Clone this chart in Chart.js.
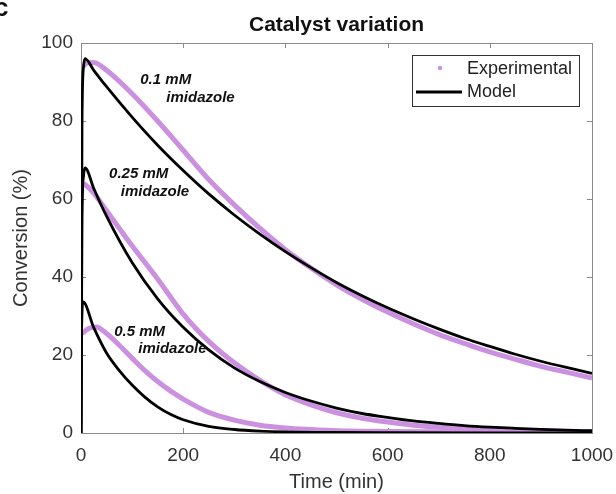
<!DOCTYPE html>
<html lang="en">
<head>
<meta charset="UTF-8">
<title>Catalyst variation</title>
<script src="https://cdn.jsdelivr.net/npm/chart.js@4.4.0/dist/chart.umd.min.js"></script>
<style>
    body { margin: 0; background: #fff; }
    canvas { display: block; }
</style>
</head>
<body>
<canvas id="catalyst" width="616" height="494"></canvas>
<script>
    // values (time in min, conversion in %)
    const timeModel01 = [0, 2, 5, 8, 25, 50, 100, 150, 200, 250, 300, 350, 400, 450, 500, 550, 600, 650, 700, 750, 800, 850, 900, 950, 1000];
    const model01 = [0, 80, 94, 96, 93.0, 88.8, 81.0, 73.8, 67.3, 61.3, 55.9, 51.0, 46.5, 42.4, 38.6, 35.2, 32.1, 29.3, 26.7, 24.3, 22.2, 20.2, 18.4, 16.8, 15.3];

    const timeModel025 = [0, 2, 5, 8, 25, 50, 100, 150, 200, 250, 300, 350, 400, 450, 500, 550, 600, 650, 700, 750, 800, 850, 900, 950, 1000];
    const model025 = [0, 55, 66, 68, 62.7, 55.6, 43.7, 34.4, 27.1, 21.3, 16.7, 13.2, 10.4, 8.2, 6.4, 5.0, 4.0, 3.1, 2.45, 1.9, 1.5, 1.2, 0.94, 0.74, 0.58];

    const timeModel05 = [0, 1, 4, 25, 50, 75, 100, 125, 150, 175, 200, 250, 300, 350, 400, 500, 600, 800, 1000];
    const model05 = [0, 25, 33.6, 27, 20.5, 16, 12.3, 9.2, 6.7, 4.8, 3.4, 1.7, 0.9, 0.5, 0.3, 0.15, 0.1, 0.05, 0.03];

    const timeExp01 = [5, 10, 25, 50, 100, 150, 200, 250, 300, 350, 400, 450, 500, 550, 600, 650, 700, 750, 800, 850, 900, 950, 1000];
    const exp01 = [94, 94.8, 95, 93, 87, 80, 72.5, 65, 58.5, 52.5, 47, 42.3, 38, 34.3, 31, 28, 25.3, 23, 20.8, 18.9, 17.1, 15.6, 14.1];

    const timeExp025 = [5, 10, 25, 50, 100, 150, 200, 250, 300, 350, 400, 450, 500, 550, 600, 650, 700, 750, 800, 850, 900, 950, 1000];
    const exp025 = [64, 63.5, 61.5, 57, 48, 39.5, 30.5, 23.5, 18, 13.5, 9.8, 7.2, 5.2, 3.8, 2.8, 2.0, 1.5, 1.1, 0.8, 0.6, 0.5, 0.4, 0.3];

    const timeExp05 = [2, 15, 30, 50, 75, 100, 125, 150, 175, 200, 250, 300, 350, 400, 450, 500, 600, 700, 800, 900, 1000];
    const exp05 = [25.5, 26.8, 27.2, 25.5, 22.5, 19.2, 16, 13.2, 10.8, 8.7, 5.3, 3.3, 2.0, 1.3, 0.9, 0.6, 0.4, 0.3, 0.2, 0.15, 0.1];

    const xTicks = [0, 200, 400, 600, 800, 1000];
    const yTicks = [0, 20, 40, 60, 80, 100];

    // curve labels, anchored in data space
    const notes = [
        { text: '0.1 mM', t: 116, v: 90.5 },
        { text: 'imidazole', t: 167, v: 85.9 },
        { text: '0.25 mM', t: 55, v: 66.4 },
        { text: 'imidazole', t: 78, v: 61.8 },
        { text: '0.5 mM', t: 65, v: 25.9 },
        { text: 'imidazole', t: 112, v: 21.5 }
    ];

    const purple = 'rgb(203,145,224)';
    const fontFamily = '"Liberation Sans", Arial, sans-serif';

    function pairs(ts, vs) {
        return ts.map(function(t, i) { return { x: t, y: vs[i] }; });
    }

    function expSet(label, ts, vs) {
        return {
            label: label, data: pairs(ts, vs), borderColor: purple, borderWidth: 5,
            pointRadius: 0, cubicInterpolationMode: 'monotone', order: 2
        };
    }
    function modelSet(label, ts, vs) {
        return {
            label: label, data: pairs(ts, vs), borderColor: '#000', borderWidth: 2.8,
            pointRadius: 0, cubicInterpolationMode: 'monotone', order: 1
        };
    }

    // frame with inward ticks on all four sides (MATLAB style box)
    const framePlugin = {
        id: 'frame',
        beforeDatasetsDraw(chart) {
            const ctx = chart.ctx, a = chart.chartArea;
            const xs = chart.scales.x, ys = chart.scales.y;
            ctx.save();
            ctx.strokeStyle = '#8a8a8a';
            ctx.lineWidth = 1;
            ctx.strokeRect(a.left + 0.5, a.top + 0.5, a.right - a.left, a.bottom - a.top);
            ctx.beginPath();
            xTicks.forEach(function(t) {
                const px = Math.round(xs.getPixelForValue(t)) + 0.5;
                ctx.moveTo(px, a.bottom); ctx.lineTo(px, a.bottom - 5);
                ctx.moveTo(px, a.top); ctx.lineTo(px, a.top + 5);
            });
            yTicks.forEach(function(v) {
                const py = Math.round(ys.getPixelForValue(v)) + 0.5;
                ctx.moveTo(a.left, py); ctx.lineTo(a.left + 5, py);
                ctx.moveTo(a.right, py); ctx.lineTo(a.right - 5, py);
            });
            ctx.stroke();
            ctx.restore();
        },
        afterDatasetsDraw(chart) {
            const ctx = chart.ctx, a = chart.chartArea;
            const xs = chart.scales.x, ys = chart.scales.y;
            ctx.save();

            // curve labels
            ctx.fillStyle = '#111';
            ctx.font = 'italic bold 15px ' + fontFamily;
            ctx.textBaseline = 'middle';
            ctx.textAlign = 'left';
            notes.forEach(function(n) {
                ctx.fillText(n.text, xs.getPixelForValue(n.t), ys.getPixelForValue(n.v));
            });

            // legend box
            const bx = a.right - 180, by = a.top + 12, bw = 167, bh = 51;
            ctx.fillStyle = '#fff';
            ctx.fillRect(bx, by, bw, bh);
            ctx.strokeStyle = '#333';
            ctx.lineWidth = 1;
            ctx.strokeRect(bx + 0.5, by + 0.5, bw, bh);
            ctx.fillStyle = purple;
            ctx.beginPath();
            ctx.arc(bx + 28, by + 13, 2.2, 0, Math.PI * 2);
            ctx.fill();
            ctx.strokeStyle = '#000';
            ctx.lineWidth = 3;
            ctx.beginPath();
            ctx.moveTo(bx + 4, by + 37); ctx.lineTo(bx + 50, by + 37);
            ctx.stroke();
            ctx.fillStyle = '#222';
            ctx.font = '18px ' + fontFamily;
            ctx.fillText('Experimental', bx + 55, by + 14);
            ctx.fillText('Model', bx + 55, by + 37);

            // title
            ctx.fillStyle = '#111';
            ctx.font = 'bold 21px ' + fontFamily;
            ctx.textAlign = 'center';
            ctx.fillText('Catalyst variation', (a.left + a.right) / 2, 25);

            // panel letter
            ctx.textAlign = 'left';
            ctx.font = 'bold 26px ' + fontFamily;
            ctx.fillText('c', -6, 9);
            ctx.restore();
        }
    };

    Chart.defaults.font.family = fontFamily;
    Chart.defaults.color = '#333';

    new Chart(document.getElementById('catalyst'), {
        type: 'line',
        data: {
            datasets: [
                expSet('Experimental 0.1 mM', timeExp01, exp01),
                expSet('Experimental 0.25 mM', timeExp025, exp025),
                expSet('Experimental 0.5 mM', timeExp05, exp05),
                modelSet('Model 0.1 mM', timeModel01, model01),
                modelSet('Model 0.25 mM', timeModel025, model025),
                modelSet('Model 0.5 mM', timeModel05, model05)
            ]
        },
        options: {
            responsive: false,
            animation: false,
            devicePixelRatio: 1,
            layout: { padding: { top: 43, right: 24, left: 0, bottom: 0 } },
            plugins: {
                legend: { display: false },
                tooltip: { enabled: false },
                title: { display: false }
            },
            scales: {
                x: {
                    type: 'linear', min: 0, max: 1000,
                    grid: { display: false, drawTicks: false },
                    border: { display: false },
                    ticks: { stepSize: 200, padding: 11, maxRotation: 0, font: { size: 19 }, color: '#333',
                        callback: function(v) { return String(v); } },
                    title: { display: true, text: 'Time (min)', font: { size: 20 }, color: '#333', padding: { top: 0, bottom: 0 } },
                    afterFit: function(scale) {
                        scale.height = 61;
                        scale.paddingLeft = 0;
                        scale.paddingRight = 0;
                    }
                },
                y: {
                    type: 'linear', min: 0, max: 100,
                    grid: { display: false, drawTicks: false },
                    border: { display: false },
                    ticks: { stepSize: 20, padding: 8, font: { size: 19 }, color: '#333' },
                    title: { display: true, text: 'Conversion (%)', font: { size: 20 }, color: '#333', padding: { top: 9, bottom: 0 } },
                    afterFit: function(scale) {
                        scale.width = 81;
                        scale.paddingTop = 0;
                        scale.paddingBottom = 0;
                    }
                }
            }
        },
        plugins: [framePlugin]
    });
</script>
</body>
</html>
